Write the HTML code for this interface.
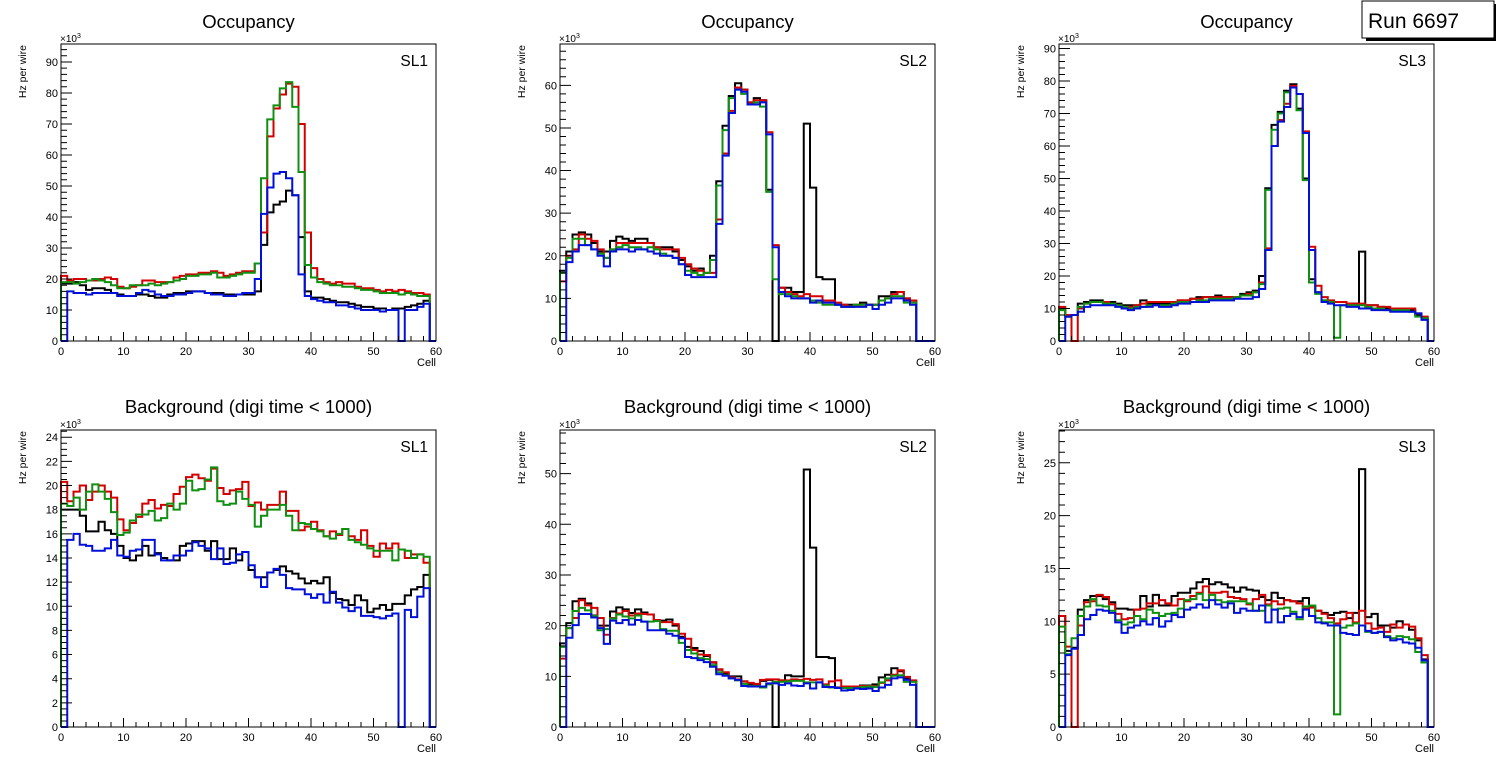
<!DOCTYPE html>
<html><head><meta charset="utf-8"><style>
html,body{margin:0;padding:0;background:#fff;}
svg{display:block;font-family:"Liberation Sans",Arial,sans-serif;}
</style></head><body>
<svg id="c" width="1496" height="772" viewBox="0 0 1496 772" xmlns="http://www.w3.org/2000/svg">
<rect x="0" y="0" width="1496" height="772" fill="#fff"/>
<g>
<rect x="1366" y="4" width="130" height="37" fill="#000"/>
<rect x="1362" y="1" width="132" height="37" fill="#fff" stroke="#000" stroke-width="1"/>
<text x="1368" y="28" font-size="21">Run 6697</text>
</g>
</svg>
<script>
const cells = Array.from({length:60},(_, i)=>i);
const seriesNames = ['black','red','green','blue'];
const colors = ['#000000','#d40000','#109010','#0010d8'];
const panelTitles = ['Occupancy','Occupancy','Occupancy','Background (digi time < 1000)','Background (digi time < 1000)','Background (digi time < 1000)'];
const slLabels = ['SL1','SL2','SL3','SL1','SL2','SL3'];
const yMaxes = [95.8, 69.7, 91.4, 24.6, 58.6, 28.1];
const yMajorSteps = [10, 10, 10, 2, 10, 5];
const yMinorSteps = [2, 2, 2, 0.5, 2, 1];

// Occupancy SL1
const occ1Black=[18.5,18.5,19,18,16.5,17,17,16.5,15.5,15,14.5,14.5,15,15,14.5,14,14,15,15.5,15.5,16,16,16,15.5,15.5,15.5,15,15,15,15,15,16,31,41.5,44,45,48.5,47,33.5,16,14,14,13.5,13,12.5,12.5,12,11.5,11,11,10.5,10.5,10,10.5,10.5,11,11.5,12,13,0];
const occ1Red=[21,19.5,20,20,19.5,19.5,20,20.5,20,17.5,17,17.5,18,19.5,19.5,19,19,19,20.5,21,21.5,21.5,22,22,22.5,22,21,21.5,22,22.5,22.5,25,35,66,75,79.5,83,82,70,35,23.5,20,19,18.5,19,18.5,18.5,17.5,17,17,16.5,16,16.5,16,16.5,16,15.5,15.5,15,0];
const occ1Green=[19,19,18.5,19,19.5,20,19.5,19,18,17,17,18,18,18,18.5,18,18.5,19,19.5,20,21,21,21.5,21.5,22,20.5,20.5,21,21.5,22,22,25,52.5,71.5,76,81.5,83.5,75.5,54.5,24.5,20.5,19,18.5,18,18,17.5,17.5,17,16.5,16.5,16,15.5,15.5,15.5,15,15.5,15,14.5,14.5,0];
const occ1Blue=[0,16,15.5,15.5,15,15.5,15.5,15.5,15.5,14.5,14.5,14.5,15.5,16.5,16,15,14.5,14.5,15,15,15.5,16,16,15.5,15,15,14.5,14.5,15,15.5,15.5,20,41,49.5,54,54.5,52.5,47,21.5,14.5,13.5,13,12.5,12.5,11.5,11.5,11,10.5,10,10,10,9.5,10,10,0,10,10,11,12,0];
// Occupancy SL2
const occ2Black=[16.5,21,25,25.5,25,23,21,21,23.5,24.5,24,23.5,24,24,23,22,22,22,21,19,17.5,16.5,17,16,20,37.5,50.5,57.5,60.5,59,56,57,56.5,35.5,0,12.5,12.5,11.5,11.5,51,36,15,14.5,14.5,8.5,8.5,8.5,8.5,9,8.5,8.5,10.5,10.5,11.5,11.5,10,9.5,0,0,0];
const occ2Red=[14,20,21.5,25,24,23.5,21.5,19.5,21.5,23,23,23,23,23,23,22,21.5,21.5,21.5,19.5,18,17,16.5,16,16,28.5,44,54,59.5,59,56,56.5,56.5,49,22.5,12.5,11.5,11,10.5,11,10.5,10.5,9.5,9.5,9,8.5,8,8.5,8.5,8.5,8.5,9.5,10,11,11.5,10,9.5,0,0,0];
const occ2Green=[16,19.5,24,24,22.5,21.5,20.5,19.5,21.5,22,22.5,22,22,21.5,22,21.5,20.5,20,19.5,18,16.5,16,15.5,16,19,36.5,49.5,57,59,58,55.5,56,55,35,14.5,11,11,10.5,10,10,9.5,9,8.5,8.5,8.5,8,8,8.5,8.5,8.5,8.5,9.5,10,10.5,10.5,9,9,0,0,0];
const occ2Blue=[0,18.5,21,22.5,22.5,21.5,20,17.5,21,21.5,21.5,21,21.5,21.5,21,20.5,20,20,19.5,18,15.5,15,15,15,15,27.5,43.5,53.5,59,58.5,55.5,55.5,56,48.5,22,11.5,10.5,10,10,10,9,9.5,9,9,8.5,8,8,8,8,8.5,7.5,8.5,9,10,10,9.5,8.5,0,0,0];
// Occupancy SL3
const occ3Black=[10,7.5,8,11.5,12,12.5,12.5,12,12,11.5,11,11,11,12.5,11.5,11.5,11.5,11.5,12,12.5,12.5,13,13.5,13.5,13.5,14,13.5,13.5,13.5,14.5,15,15.5,20,47,66.5,70.5,77,79,71.5,50,19,15,12.5,12,12,12,11.5,11.5,27.5,11,11,10.5,10,10,10,9.5,9.5,8,7,0];
const occ3Red=[10.5,8,0,10,11.5,12,12,12,11.5,11,10.5,10.5,11,11.5,12,12,12,12,12,12.5,12.5,13,13,13.5,13.5,13.5,13.5,13.5,13.5,14,14.5,15,18,28.5,60,68,73,78.5,76,64.5,29,17,13.5,12.5,12,12,11.5,11.5,11.5,11,11,10.5,10.5,10,10,10,10,8.5,7.5,0];
const occ3Green=[9.5,7.5,8,10.5,11.5,12,12,11.5,11.5,11,10.5,10,10.5,10.5,11,11,11,11,11.5,12,12,12,12.5,12.5,13,13,13,13,13.5,14,14,15,17.5,46.5,65,70,76.5,78,71,49.5,18,14.5,12.5,12,1,11,11,11,11,10.5,10,10,9.5,9.5,9.5,9.5,9,7.5,7,0];
const occ3Blue=[0,7.5,8,9,10.5,11,11,11,11,10.5,10,9.5,10,10.5,10.5,11,10.5,10.5,11,11.5,11.5,12,12,12,12.5,12.5,12.5,12.5,13,13,13,13.5,16,28,60,67.5,72,78,76,64,28,15,12,11.5,11,11,10.5,10.5,10,10,9.5,9.5,9.5,9,9,9,9,8.5,6.5,0];
// Background SL1
const bkg1Black=[18,18,18,17.5,16.2,16.2,17,16.3,16,15,14,13.8,14.2,15,14.2,14.4,14,13.8,13.8,15,15.2,15.4,15.4,14.6,15.4,13.9,13.9,14.8,13.8,14.5,13,12.4,12.4,12.8,13,13.3,12.9,12.7,12.3,11.9,12.1,11.9,12.4,11.1,10.6,10.5,10.1,10.9,10.5,9.5,9.8,10.1,9.7,10.2,10.2,10.9,11.4,11.6,12.6,0];
const bkg1Red=[20.3,18.7,19.5,20,18.8,19.5,20,19.5,19,17.2,16.3,16.9,17.4,18.5,18.8,18.1,18.4,18.3,19.3,19.9,20.7,20.9,20.6,20.4,21.4,19.8,19.3,19.6,19.7,20.3,18.3,18.6,18,18.4,18.4,19.5,17.9,17.9,16.3,16.6,17,16.3,15.8,16.2,15.9,16.4,15.8,15.5,16.3,15,14.1,15.2,14.8,15.2,14.7,14,14.3,14.3,13.6,0];
const bkg1Green=[18.5,18.3,19,18,19.5,20.1,19.5,18.9,17.8,15.9,16.1,17.1,17.6,17.6,17.9,17.1,17.3,18.5,18,18.5,20.4,19.6,19.7,20.5,21.5,18.7,18.4,18.5,19.5,18.9,18.4,16.6,17.5,18,18,18.4,17.5,16.3,16.9,16.8,16.4,16.2,15.8,15.6,16,16.4,15.5,15.3,15.1,14.8,14.6,14.6,14.6,13.8,14.7,14.6,14,14.3,14.1,0];
const bkg1Blue=[0,15.5,16,15.1,15,14.6,14.6,14.8,15.5,14.2,14.1,14.6,14.7,15.5,15.5,14.3,13.8,13.8,14.2,14.2,14.6,15.3,15,14.8,13.9,14.8,13.5,13.6,14.3,14.5,13.4,12.4,11.6,12.8,13.1,12.6,11.5,11.4,11.4,11,10.7,11,10.3,11.2,10.3,9.9,9.6,9.9,9.2,9.2,9.1,9,9.2,9.4,0,9.7,9.1,10.8,11.5,0];
// Background SL2
const bkg2Black=[16.5,20.5,24.8,25.3,24.4,22,20,20,22.8,23.6,23.2,22.5,23.2,22.6,22.2,21,21,21.2,20,17.8,15.8,15.6,15,14,12.7,11.3,10.5,10,10,9,8.5,8.4,9.1,9.3,0,9.2,10.2,10,10,50.8,35.4,13.8,13.8,13.6,7.8,7.8,8,7.8,8.2,8.2,8.4,9.8,10.3,11.6,11,9.6,9,0,0,0];
const bkg2Red=[13.5,19.5,21.5,25,24,23.5,21.5,18.2,21.5,22.4,22.9,22,22.4,22.3,22.2,21.1,20.7,20.7,20.3,18.4,17.4,15.2,14.3,14.2,12.8,11.4,10.8,9.8,9.4,9,8.7,8.5,9.3,9.4,9.4,9.2,9.2,9.4,9.3,9.5,9.3,9.4,8.4,9,9.2,8,8,8,8.1,8.1,8,8.7,9.2,10.3,11.2,9.9,9.2,0,0,0];
const bkg2Green=[15.8,19.5,22.9,23.5,23,21.9,19.1,19.3,21.4,22.2,21.8,21.4,22,20.8,20.8,20.9,19.3,19,19,16.6,15.2,14.5,13.6,13.4,12.2,10.8,10.2,9.6,9.2,8.5,8.1,8.1,7.8,8.4,8.9,8.9,9,9.1,9.1,8.8,8.8,8.8,8.2,7.8,7.7,7.7,7.7,7.7,7.9,8,7.9,8.8,9.6,10.1,10.2,8.9,8.9,0,0,0];
const bkg2Blue=[0,17.6,20.1,22.3,22.3,21.6,19.5,16.4,21,20.5,21.1,20.2,21.1,20.8,19.1,19.1,19.1,18.4,18,17.5,13.8,13.6,13.2,12.8,11.9,10.4,10.1,9.6,9.3,8.1,8,8,8,8.6,8.6,8.3,8.6,8.2,8.1,8.6,7.6,8.8,7.9,7.9,7.7,7.2,7.3,7.6,7.5,7.6,7.1,7.8,8.3,9.6,9.8,9.3,8.3,0,0,0];
// Background SL3
const bkg3Black=[10.5,7.2,7.5,11.1,12,12.4,12.4,12.1,11.8,11.2,11.2,11.1,11.1,12.4,11.4,12.5,11.5,11.5,12.4,12.7,12.7,13.1,13.7,14,13.5,13.7,13.5,13.2,12.8,13.2,13,12.9,12.3,12,12.7,12.2,12,11.9,11.9,12.2,11.4,11,10.8,10.6,10.8,10.9,10.3,10.8,24.4,10.4,10.7,9.6,9.6,9.4,10,9.7,9.2,8.2,6.4,0];
const bkg3Red=[10.5,7.6,0,9.6,11.8,11.9,12.5,12.3,11.6,10.7,10.2,10.3,11.1,11.2,11.7,11.7,12,11.7,11.5,12.1,11.9,12.4,12.7,13.3,12.7,12.7,12.8,12.3,12.2,12.1,11.6,12.1,12.5,11.6,11.9,11.6,12,11.9,11.7,11.2,11.3,11,10.7,10.3,9.8,10.2,10.8,9.9,11,9.8,9.3,9.4,9,9.7,9.4,9.7,9.5,8.4,6.8,0];
const bkg3Green=[9.5,6.9,8.4,10.5,11.4,12.1,11.5,11.4,11,10.1,9.7,9.9,10.5,10.2,11.1,10.8,10.5,10.7,10.8,11.2,12,12.1,12.6,12,12.5,12,11.8,11.9,11.9,11.9,11.7,11,11,11.5,11.1,11.2,11.3,10.9,10.2,11.4,11.5,10.3,9.9,9.9,1.2,9.4,9.6,9.8,9.6,9,8.9,9,8.6,8.4,8.6,8.5,8.3,7.1,6.1,0];
const bkg3Blue=[0,6.8,7.4,8.7,10.2,10.6,11.1,11,10.8,9.9,8.9,9.4,9.6,10,9.7,10.3,9.5,10,10.6,10.4,11.1,11.3,11.6,11.3,12,11.6,11.3,11.7,10.8,11.2,11,11,11.5,9.9,11.1,9.9,10.5,10.7,10.4,11.1,10.5,9.9,9.8,9.6,9.6,8.9,8.8,8.7,9.6,9.1,8.9,9,8.5,8.2,8.3,8,7.9,7.5,6.3,0];

const panelSeries = [
  [occ1Black,occ1Red,occ1Green,occ1Blue],
  [occ2Black,occ2Red,occ2Green,occ2Blue],
  [occ3Black,occ3Red,occ3Green,occ3Blue],
  [bkg1Black,bkg1Red,bkg1Green,bkg1Blue],
  [bkg2Black,bkg2Red,bkg2Green,bkg2Blue],
  [bkg3Black,bkg3Red,bkg3Green,bkg3Blue]
];
const xTickLabels = ['0','10','20','30','40','50','60'];

const NS='http://www.w3.org/2000/svg';
const svg=document.getElementById('c');
const runBox=svg.lastElementChild;
function mk(tag,attrs,parent){const e=document.createElementNS(NS,tag);for(const k in attrs)e.setAttribute(k,attrs[k]);(parent||svg).insertBefore(e,parent?null:runBox);return e;}

const frameXs=[[61,436],[560,935],[1059,1434]];
const frameYs=[[44,341],[430,727]];

for(let p=0;p<6;p++){
  const [x0,x1]=frameXs[p%3];
  const [y0,y1]=frameYs[Math.floor(p/3)];
  const ymax=yMaxes[p];
  const sx=v=>x0+(x1-x0)*v/60;
  const sy=v=>y1-(y1-y0)*v/ymax;
  const g=mk('g',{});
  
  
  const t=mk('text',{x:(x0+x1)/2,y:y0-(p<3?16:17),'font-size':'18.5','text-anchor':'middle'},g);
  t.textContent=panelTitles[p];
  
  
  // series
  panelSeries[p].forEach((vals,s)=>{
    let d='M'+sx(0)+','+sy(0);
    cells.forEach((c,i)=>{d+=' V'+sy(vals[i]).toFixed(2)+' H'+sx(c+1).toFixed(2);});
    d+=' V'+sy(0);
    const path=mk('path',{d:d,fill:'none',stroke:colors[s],'stroke-width':'2','stroke-linejoin':'miter'},g);
    
    
  });
  // frame
  const fr=mk('rect',{x:x0,y:y0,width:x1-x0,height:y1-y0,fill:'none',stroke:'#000','stroke-width':'1'},g);
  
  
  // x ticks
  let td='';
  for(let v=0;v<=60;v+=2){const len=(v%10===0)?9:5;td+='M'+sx(v)+','+y1+' v'+(-len)+' ';}
  const ms=yMinorSteps[p], MS=yMajorSteps[p];
  for(let k=0;k*ms<=ymax+1e-9;k++){const v=k*ms;const isMaj=Math.abs(v/MS-Math.round(v/MS))<1e-6;td+='M'+x0+','+sy(v).toFixed(2)+' h'+(isMaj?11:6)+' ';}
  const tk=mk('path',{d:td,stroke:'#000','stroke-width':'1',fill:'none'},g);
  
  
  xTickLabels.forEach((lab,i)=>{
    const e=mk('text',{x:sx(i*10),y:y1+14,'font-size':'11','text-anchor':'middle'},g);
    e.textContent=lab;
    
    
  });
  for(let v=0;v<=ymax+1e-9;v+=MS){
    const e=mk('text',{x:x0-3,y:sy(v)+4,'font-size':'11','text-anchor':'end'},g);
    e.textContent=String(Math.round(v));
    
    
  }
  const xt=mk('text',{x:x1,y:y1+25,'font-size':'11','text-anchor':'end'},g);
  xt.textContent='Cell';
  
  
  const yt=mk('text',{x:0,y:0,'font-size':'10.5','text-anchor':'end',transform:'translate('+(x0-35)+','+(y0+1)+') rotate(-90)'},g);
  yt.textContent='Hz per wire';
  
  
  const ex=mk('text',{x:x0-1,y:y0-2,'font-size':'10'},g);
  ex.innerHTML='×10<tspan dy="-4" font-size="7">3</tspan>';
  
  
  const sl=mk('text',{x:x1-8,y:y0+(p<3?22:22),'font-size':'15.5','text-anchor':'end'},g);
  sl.textContent=slLabels[p];
  
  
}
</script>
</body></html>
